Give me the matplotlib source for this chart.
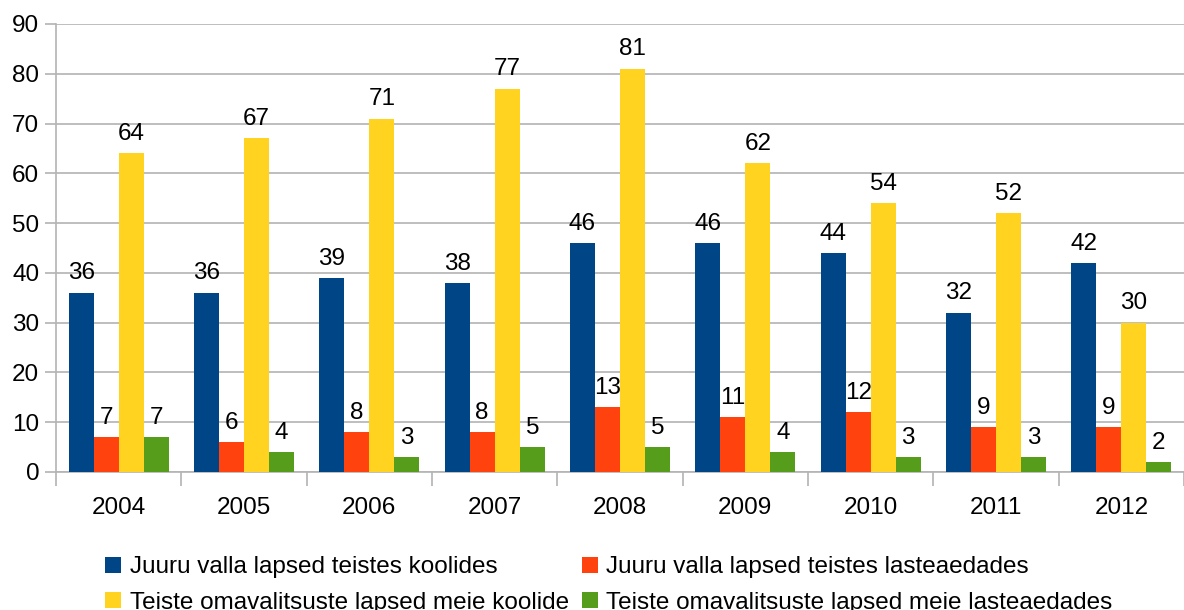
import numpy as np
import matplotlib.pyplot as plt

plt.rcParams['font.family'] = ['Liberation Sans', 'DejaVu Sans']

years = ['2004', '2005', '2006', '2007', '2008', '2009', '2010', '2011', '2012']
juuru_koolid = [36, 36, 39, 38, 46, 46, 44, 32, 42]
juuru_lasteaiad = [7, 6, 8, 8, 13, 11, 12, 9, 9]
teiste_koolid = [64, 67, 71, 77, 81, 62, 54, 52, 30]
teiste_lasteaiad = [7, 4, 3, 5, 5, 4, 3, 3, 2]

series = [
    ("Juuru valla lapsed teistes koolides", juuru_koolid, '#004586'),
    ("Juuru valla lapsed teistes lasteaedades", juuru_lasteaiad, '#ff420e'),
    ("Teiste omavalitsuste lapsed meie koolide", teiste_koolid, '#ffd320'),
    ("Teiste omavalitsuste lapsed meie lasteaedades", teiste_lasteaiad, '#579d1c'),
]

fs = 17.5

fig = plt.figure(figsize=(11.84, 6.10), dpi=100)
ax = fig.add_axes([56 / 1184, 1 - 472 / 610, 1 - 56 / 1184, (472 - 24) / 610])

x = np.arange(len(years))
w = 0.2
handles = []
for i, (name, vals, col) in enumerate(series):
    bars = ax.bar(x + (i - 1.5) * w, vals, w, color=col, label=name, zorder=3)
    handles.append(bars)
    for b, v in zip(bars, vals):
        ax.annotate(str(v), (b.get_x() + b.get_width() / 2, v), xytext=(0, 6),
                    textcoords='offset points', ha='center', va='bottom',
                    fontsize=fs, color='black')

ax.set_xlim(-0.5, len(years) - 0.5)
ax.set_ylim(0, 90)
ax.set_yticks(range(0, 91, 10))
ax.yaxis.grid(True, color='#b3b3b3', linewidth=1.2, zorder=0)
ax.set_axisbelow(True)

ax.set_xticks(x)
ax.set_xticklabels(years)
ax.set_xticks(np.arange(-0.5, len(years), 1), minor=True)
ax.tick_params(axis='x', which='major', length=0, pad=18, labelsize=fs)
ax.tick_params(axis='x', which='minor', length=10, color='#b3b3b3', width=1.2)
ax.tick_params(axis='y', length=8, color='#b3b3b3', width=1.2, labelsize=fs, pad=4)

for s in ['top', 'right']:
    ax.spines[s].set_visible(False)
for s in ['left', 'bottom']:
    ax.spines[s].set_color('#b3b3b3')
    ax.spines[s].set_linewidth(1.2)

order = [0, 2, 1, 3]
fig.legend([handles[i] for i in order], [series[i][0] for i in order],
           ncol=2, loc='upper left', bbox_to_anchor=(0.089, 0.088),
           frameon=False, fontsize=fs, handlelength=0.65, handleheight=0.65,
           handletextpad=0.35, columnspacing=0.55, labelspacing=0.55,
           borderpad=0, borderaxespad=0)

plt.savefig('out.png', dpi=100)
